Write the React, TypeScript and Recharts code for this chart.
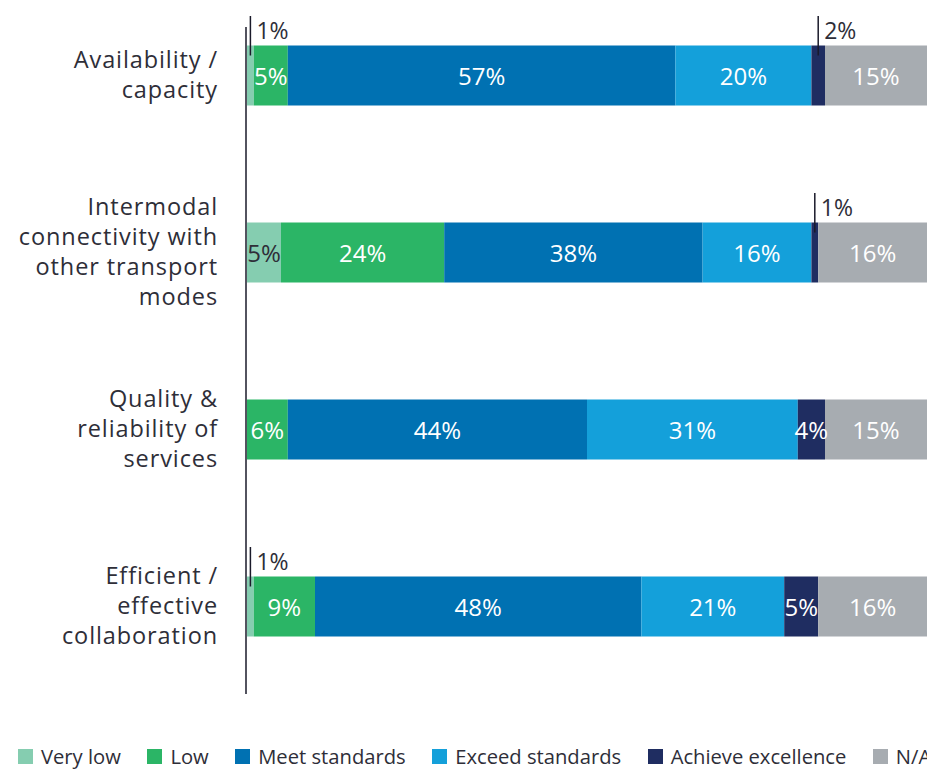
import { BarChart, Bar, XAxis, YAxis, Legend, LabelList } from "recharts";

const categories = [
  "Availability / capacity",
  "Intermodal connectivity with other transport modes",
  "Quality & reliability of services",
  "Efficient / effective collaboration",
];
const categoryLines = [
  ["Availability /", "capacity"],
  ["Intermodal", "connectivity with", "other transport", "modes"],
  ["Quality &", "reliability of", "services"],
  ["Efficient /", "effective", "collaboration"],
];

const veryLow = [1, 5, 0, 1];
const low = [5, 24, 6, 9];
const meetStandards = [57, 38, 44, 48];
const exceedStandards = [20, 16, 31, 21];
const achieveExcellence = [2, 1, 4, 5];
const notApplicable = [15, 16, 15, 16];

const seriesKeys = ["veryLow", "low", "meet", "exceed", "achieve", "na"];
const seriesNames = ["Very low", "Low", "Meet standards", "Exceed standards", "Achieve excellence", "N/A"];
const seriesColors = ["#85cdb0", "#2bb566", "#0071b2", "#14a0da", "#1f2d61", "#a7acb1"];
const labelColors = ["#2e2e38", "#fff", "#fff", "#fff", "#fff", "#fff"];

const data = categories.map((name, i) => ({
  name,
  veryLow: veryLow[i],
  low: low[i],
  meet: meetStandards[i],
  exceed: exceedStandards[i],
  achieve: achieveExcellence[i],
  na: notApplicable[i],
}));

const FONT = "'Open Sans', sans-serif";
const DARK = "#2e2e38";

const CategoryTick = (props: any) => {
  const { x, y, index } = props;
  const lines = categoryLines[index] || [];
  const n = lines.length;
  return (
    <g>
      {lines.map((line, i) => (
        <text
          key={i}
          x={x}
          y={y + (i - (n - 1) / 2) * 30 + 8}
          textAnchor="end"
          fontFamily={FONT}
          fontSize={23.5}
          letterSpacing={0.9}
          fill={DARK}
        >
          {line}
        </text>
      ))}
    </g>
  );
};

// small shares get a leader line with the label above the bar
const makeLabel = (color: string) => (props: any) => {
  const { x, y, width, height, value } = props;
  if (!value) return null;
  const cx = x + width / 2;
  if (value <= 2) {
    return (
      <g>
        <line x1={cx} x2={cx} y1={y - 29.5} y2={y + 10} stroke="#1a1a2a" strokeWidth={1.5} />
        <text x={cx + 6} y={y - 7} fontFamily={FONT} fontSize={23} fill={DARK}>
          {value}%
        </text>
      </g>
    );
  }
  return (
    <text x={cx} y={y + height / 2 + 9} textAnchor="middle" fontFamily={FONT} fontSize={24} fill={color}>
      {value}%
    </text>
  );
};

// legend drawn in series order (Recharts would sort it by name)
const renderLegend = () => (
  <div style={{ display: "flex", alignItems: "center", fontFamily: FONT, fontSize: 20.2, lineHeight: "25px", color: DARK, whiteSpace: "nowrap" }}>
    {seriesNames.map((name, i) => (
      <div key={name} style={{ display: "flex", alignItems: "center", marginRight: 26.5 }}>
        <span style={{ display: "inline-block", width: 15, height: 15, background: seriesColors[i], marginRight: 8 }} />
        <span>{name}</span>
      </div>
    ))}
  </div>
);

export default function App() {
  return (
    <div style={{ position: "absolute", left: 0, top: 0, width: 927, height: 769, background: "#fff", overflow: "hidden" }}>
      <BarChart
        width={927}
        height={769}
        data={data}
        layout="vertical"
        margin={{ top: 27, right: 0, bottom: 75, left: 0 }}
      >
        <XAxis type="number" domain={[0, 100]} hide padding={{ left: 1, right: 0 }} />
        <YAxis
          type="category"
          dataKey="name"
          width={246}
          padding={{ top: -40.5, bottom: -0.5 }}
          axisLine={{ stroke: "#1a1a2a", strokeWidth: 1.5 }}
          tickLine={false}
          tickSize={0}
          tickMargin={28}
          tick={<CategoryTick />}
          interval={0}
        />
        <Legend
          verticalAlign="middle"
          layout="horizontal"
          content={renderLegend}
          wrapperStyle={{ top: 744, left: 18, width: 920 }}
        />
        {seriesKeys.map((key, i) => (
          <Bar
            key={key}
            dataKey={key}
            name={seriesNames[i]}
            stackId="a"
            fill={seriesColors[i]}
            barSize={60}
            isAnimationActive={false}
          >
            <LabelList dataKey={key} content={makeLabel(labelColors[i])} />
          </Bar>
        ))}
      </BarChart>
    </div>
  );
}
